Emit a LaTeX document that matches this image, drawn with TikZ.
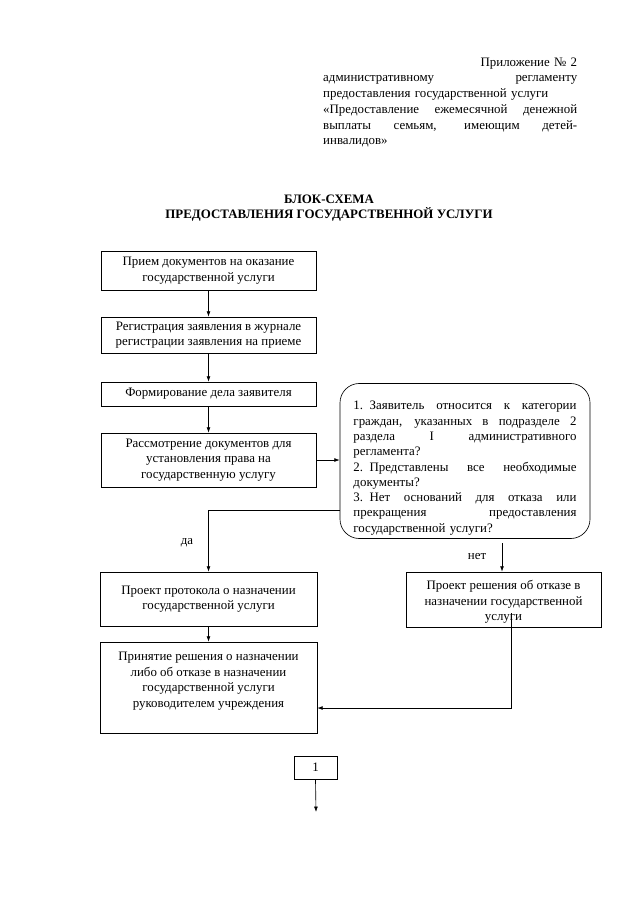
\documentclass[tikz,border=0pt]{standalone}
\usepackage{fontspec}
\setmainfont{Liberation Serif}
\usetikzlibrary{arrows.meta}
\newcommand\mytxt{\fontsize{12}{14.5}\selectfont}
\newcommand\jl[2]{\makebox[#1][s]{\spaceskip=0.25em plus 1fil\relax #2}}
\begin{document}
\begin{tikzpicture}[x=0.93pt,y=-0.93pt,
  every node/.style={font=\mytxt},
  box/.style={draw,line width=0.6pt,align=center,inner sep=1pt},
  rbox/.style={draw,line width=0.6pt,rounded corners=18pt,inner sep=0pt,text width=207.4pt,align=left,
               font=\fontsize{12}{14.2}\selectfont},
  conn/.style={line width=0.6pt},
  arr/.style={conn,-{Latex[length=5pt,width=3.6pt]}},
  lbl/.style={inner sep=0pt}
]
\useasboundingbox (0,0) rectangle (640,904);

% header
\node[anchor=north west,inner sep=0pt,text width=236.2pt,align=left,
      font=\fontsize{12}{14.6}\selectfont] (hdr) at (323,57.5)
 {\hfill Приложение № 2\\
  \jl{236.2pt}{административному регламенту}\\
  предоставления государственной услуги\\
  \jl{236.2pt}{«Предоставление ежемесячной денежной}\\
  \jl{236.2pt}{выплаты семьям, имеющим детей-}\\
  инвалидов»};

% title
\node[anchor=north,inner sep=0pt,align=center,font=\fontsize{12}{14.5}\selectfont\bfseries] (ttl) at (329,194.5)
 {БЛОК-СХЕМА\\ПРЕДОСТАВЛЕНИЯ ГОСУДАРСТВЕННОЙ УСЛУГИ};

% boxes
\node[box,minimum width=200pt,minimum height=36.3pt] (b1) at (208.5,270.5)
 {Прием документов на оказание\\государственной услуги};
\node[box,minimum width=200pt,minimum height=33.5pt] (b2) at (208.5,335)
 {Регистрация заявления в журнале\\регистрации заявления на приеме};
\node[box,minimum width=200pt,minimum height=22.3pt] (b3) at (208.5,394)
 {Формирование дела заявителя};
\node[box,minimum width=200pt,minimum height=50.2pt] (b4) at (208.5,460)
 {Рассмотрение документов для\\установления права на\\государственную услугу};
\node[box,minimum width=201.8pt,minimum height=50.2pt] (b5) at (208.5,599)
 {Проект протокола о назначении\\государственной услуги};
\node[box,minimum width=201.8pt,minimum height=84.6pt] (b6) at (208.5,687.5)
 {Принятие решения о назначении\\либо об отказе в назначении\\государственной услуги\\руководителем учреждения\\\mbox{}};
\node[box,minimum width=181.4pt,minimum height=51.2pt] (b7) at (503.5,599.5)
 {\rule{0pt}{13pt}Проект решения об отказе в\\назначении государственной\\услуги};
\node[rbox,minimum width=232.5pt,minimum height=144.2pt] (rb) at (465,461)
 {\vspace*{7pt}
  \jl{207.4pt}{1. Заявитель относится к категории}\\
  \jl{207.4pt}{граждан, указанных в подразделе 2}\\
  \jl{207.4pt}{раздела I административного}\\
  регламента?\\
  \jl{207.4pt}{2. Представлены все необходимые}\\
  документы?\\
  \jl{207.4pt}{3. Нет оснований для отказа или}\\
  \jl{207.4pt}{прекращения предоставления}\\
  государственной услуги?};
\node[box,minimum width=40pt,minimum height=21.4pt] (b8) at (315.5,767.5) {1};

% labels
\node[lbl] (yes) at (187,543) {да};
\node[lbl] (no) at (477,557) {нет};

% helper coordinates
\coordinate (ys) at (0,510);
\coordinate (nx) at (502,0);
\coordinate (c7) at (511,613);
\coordinate (y6) at (0,708);
\coordinate (endp) at (316,812);

% connectors
\draw[arr] (b1) -- (b2);
\draw[arr] (b2) -- (b3);
\draw[arr] (b3) -- (b4);
\draw[arr] (b4.east) -- (b4.east -| rb.west);
\draw[arr] (rb.west |- ys) -| (b5.north);
\draw[arr,shorten <=4pt] (rb.south -| nx) -- (b7.north -| nx);
\draw[arr] (b5) -- (b6);
\draw[arr] (c7) |- (b6.east |- y6);
\draw[arr] (b8.south) -- (endp);
\end{tikzpicture}
\end{document}
